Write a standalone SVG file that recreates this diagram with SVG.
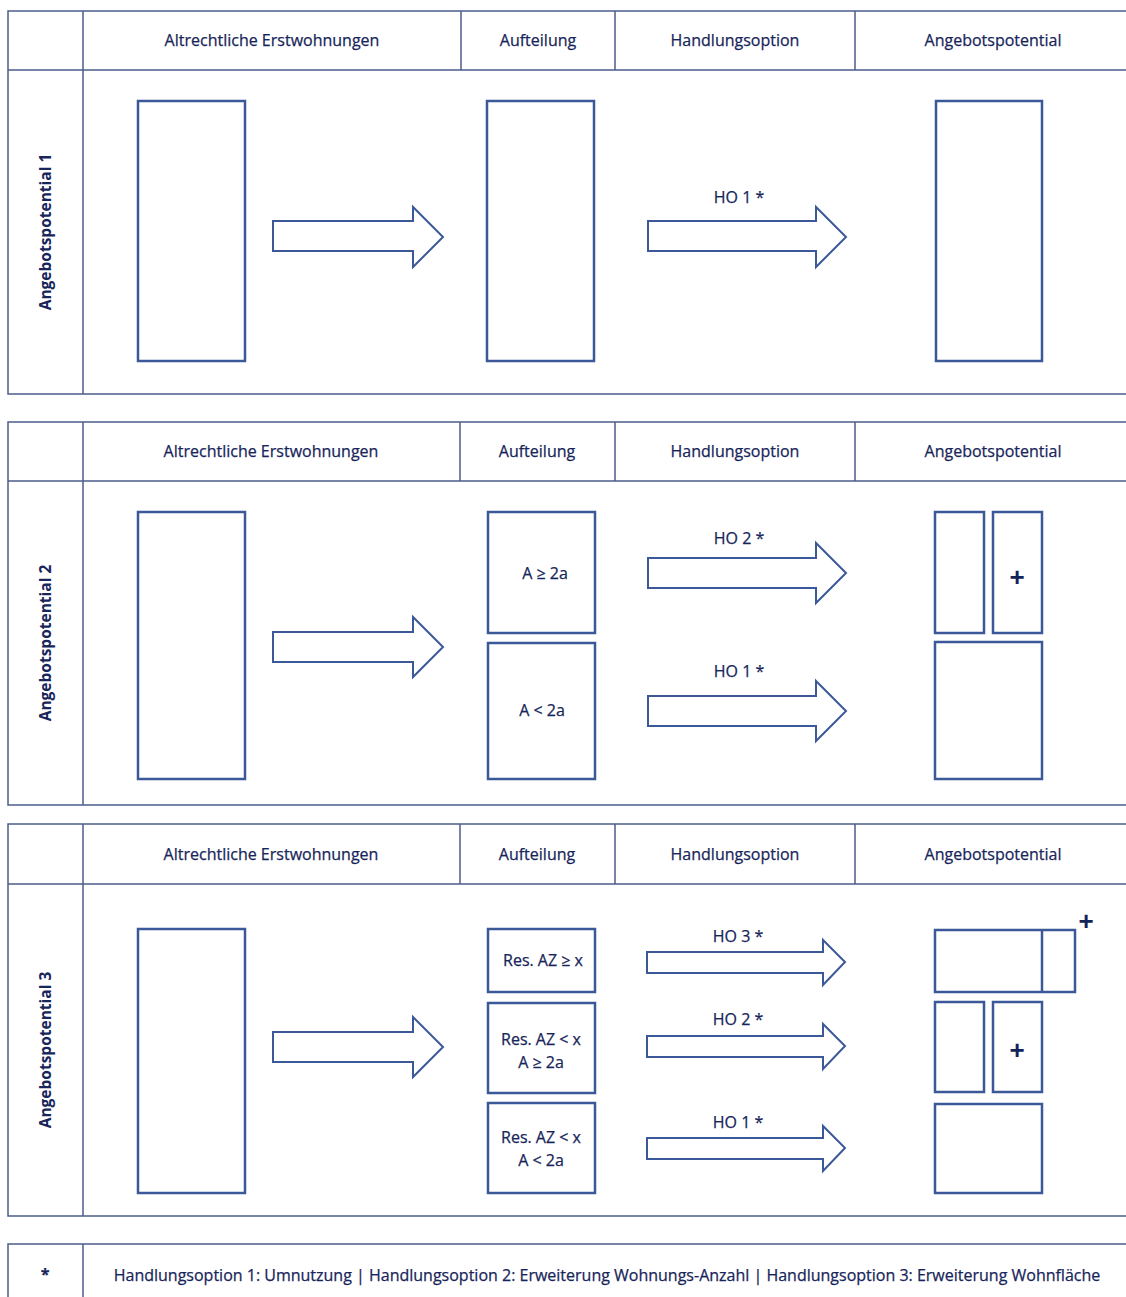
<svg xmlns="http://www.w3.org/2000/svg" width="1126" height="1297" viewBox="0 0 1126 1297">
<style>
.grid{fill:none;stroke:#4d5d8c;stroke-width:1.5}
.box{fill:#fff;stroke:#3b5998;stroke-width:2.5}
.arr{fill:#fff;stroke:#3b5998;stroke-width:2}
.t{font-family:"Open Sans","Liberation Sans",sans-serif;font-size:16px;fill:#17255a;text-anchor:middle;stroke:#17255a;stroke-width:0.25}
.v{font-family:"Open Sans","Liberation Sans",sans-serif;font-size:15.5px;font-weight:bold;fill:#17255a;text-anchor:middle}
.plus{font-family:"Liberation Sans",sans-serif;font-size:26px;font-weight:bold;fill:#13235a;text-anchor:middle}
</style>
<rect width="1126" height="1297" fill="#fff"/>
<g id="table1">
<path class="grid" d="M1126 11H8V394H1126M8 70H1126M83 11V394M461 11V70M615 11V70M855 11V70"/>
<text class="t" x="272" y="46">Altrechtliche Erstwohnungen</text>
<text class="t" x="538" y="46">Aufteilung</text>
<text class="t" x="735" y="46">Handlungsoption</text>
<text class="t" x="993" y="46">Angebotspotential</text>
<text class="v" transform="translate(51,232) rotate(-90)">Angebotspotential 1</text>
</g>
<g id="table2">
<path class="grid" d="M1126 422H8V805H1126M8 481H1126M83 422V805M460 422V481M615 422V481M855 422V481"/>
<text class="t" x="271" y="457">Altrechtliche Erstwohnungen</text>
<text class="t" x="537" y="457">Aufteilung</text>
<text class="t" x="735" y="457">Handlungsoption</text>
<text class="t" x="993" y="457">Angebotspotential</text>
<text class="v" transform="translate(51,643) rotate(-90)">Angebotspotential 2</text>
</g>
<g id="table3">
<path class="grid" d="M1126 824H8V1216H1126M8 884H1126M83 824V1216M460 824V884M615 824V884M855 824V884"/>
<text class="t" x="271" y="860">Altrechtliche Erstwohnungen</text>
<text class="t" x="537" y="860">Aufteilung</text>
<text class="t" x="735" y="860">Handlungsoption</text>
<text class="t" x="993" y="860">Angebotspotential</text>
<text class="v" transform="translate(51,1050) rotate(-90)">Angebotspotential 3</text>
</g>
<g id="footer">
<path class="grid" d="M1126 1244H8V1297M83 1244V1297"/>
<text class="t" x="45" y="1280" font-weight="bold">*</text>
<text class="t" x="607" y="1281">Handlungsoption 1: Umnutzung | Handlungsoption 2: Erweiterung Wohnungs-Anzahl | Handlungsoption 3: Erweiterung Wohnfläche</text>
</g>
<g id="r1-alt"><rect class="box" x="138" y="101" width="107" height="260"/></g>
<g id="r1-auf"><rect class="box" x="487" y="101" width="107" height="260"/></g>
<g id="r1-ang"><rect class="box" x="936" y="101" width="106" height="260"/></g>
<g id="r2-alt"><rect class="box" x="138" y="512" width="107" height="267"/></g>
<g id="r2-a1"><rect class="box" x="488" y="512" width="107" height="121"/><text class="t" x="545" y="579">A ≥ 2a</text></g>
<g id="r2-a2"><rect class="box" x="488" y="643" width="107" height="136"/><text class="t" x="542" y="716">A &lt; 2a</text></g>
<g id="r2-p1"><rect class="box" x="935" y="512" width="49" height="121"/><rect class="box" x="993" y="512" width="49" height="121"/><text class="plus" x="1017" y="586">+</text></g>
<g id="r2-p2"><rect class="box" x="935" y="642" width="107" height="137"/></g>
<g id="r3-alt"><rect class="box" x="138" y="929" width="107" height="264"/></g>
<g id="r3-a1"><rect class="box" x="488" y="929" width="107" height="63"/><text class="t" x="543" y="966">Res. AZ ≥ x</text></g>
<g id="r3-a2"><rect class="box" x="488" y="1003" width="107" height="90"/><text class="t" x="541" y="1045">Res. AZ &lt; x</text><text class="t" x="541" y="1068">A ≥ 2a</text></g>
<g id="r3-a3"><rect class="box" x="488" y="1103" width="107" height="90"/><text class="t" x="541" y="1143">Res. AZ &lt; x</text><text class="t" x="541" y="1166">A &lt; 2a</text></g>
<g id="r3-p1"><rect class="box" x="935" y="930" width="140" height="62"/><line class="box" x1="1042" y1="930" x2="1042" y2="992"/><text class="plus" x="1086" y="930">+</text></g>
<g id="r3-p2"><rect class="box" x="935" y="1002" width="49" height="90"/><rect class="box" x="993" y="1002" width="49" height="90"/><text class="plus" x="1017" y="1059">+</text></g>
<g id="r3-p3"><rect class="box" x="935" y="1104" width="107" height="89"/></g>
<g id="connectors">
<path class="arr" d="M273 221H413V207L443 237L413 267V251H273Z"/>
<path class="arr" d="M648 221H816V207L846 237L816 267V251H648Z"/>
<text class="t" x="739" y="203">HO 1 *</text>
<path class="arr" d="M273 632H413V617L443 647L413 677V662H273Z"/>
<path class="arr" d="M648 558H816V543L846 573L816 603V588H648Z"/>
<text class="t" x="739" y="544">HO 2 *</text>
<path class="arr" d="M648 696H816V681L846 711L816 741V726H648Z"/>
<text class="t" x="739" y="677">HO 1 *</text>
<path class="arr" d="M273 1032H413V1017L443 1047L413 1077V1062H273Z"/>
<path class="arr" d="M647 952H823V940L845 962L823 985V973H647Z"/>
<text class="t" x="738" y="942">HO 3 *</text>
<path class="arr" d="M647 1036H823V1024L845 1046L823 1069V1057H647Z"/>
<text class="t" x="738" y="1025">HO 2 *</text>
<path class="arr" d="M647 1138H823V1126L845 1148L823 1171V1159H647Z"/>
<text class="t" x="738" y="1128">HO 1 *</text>
</g>
</svg>
